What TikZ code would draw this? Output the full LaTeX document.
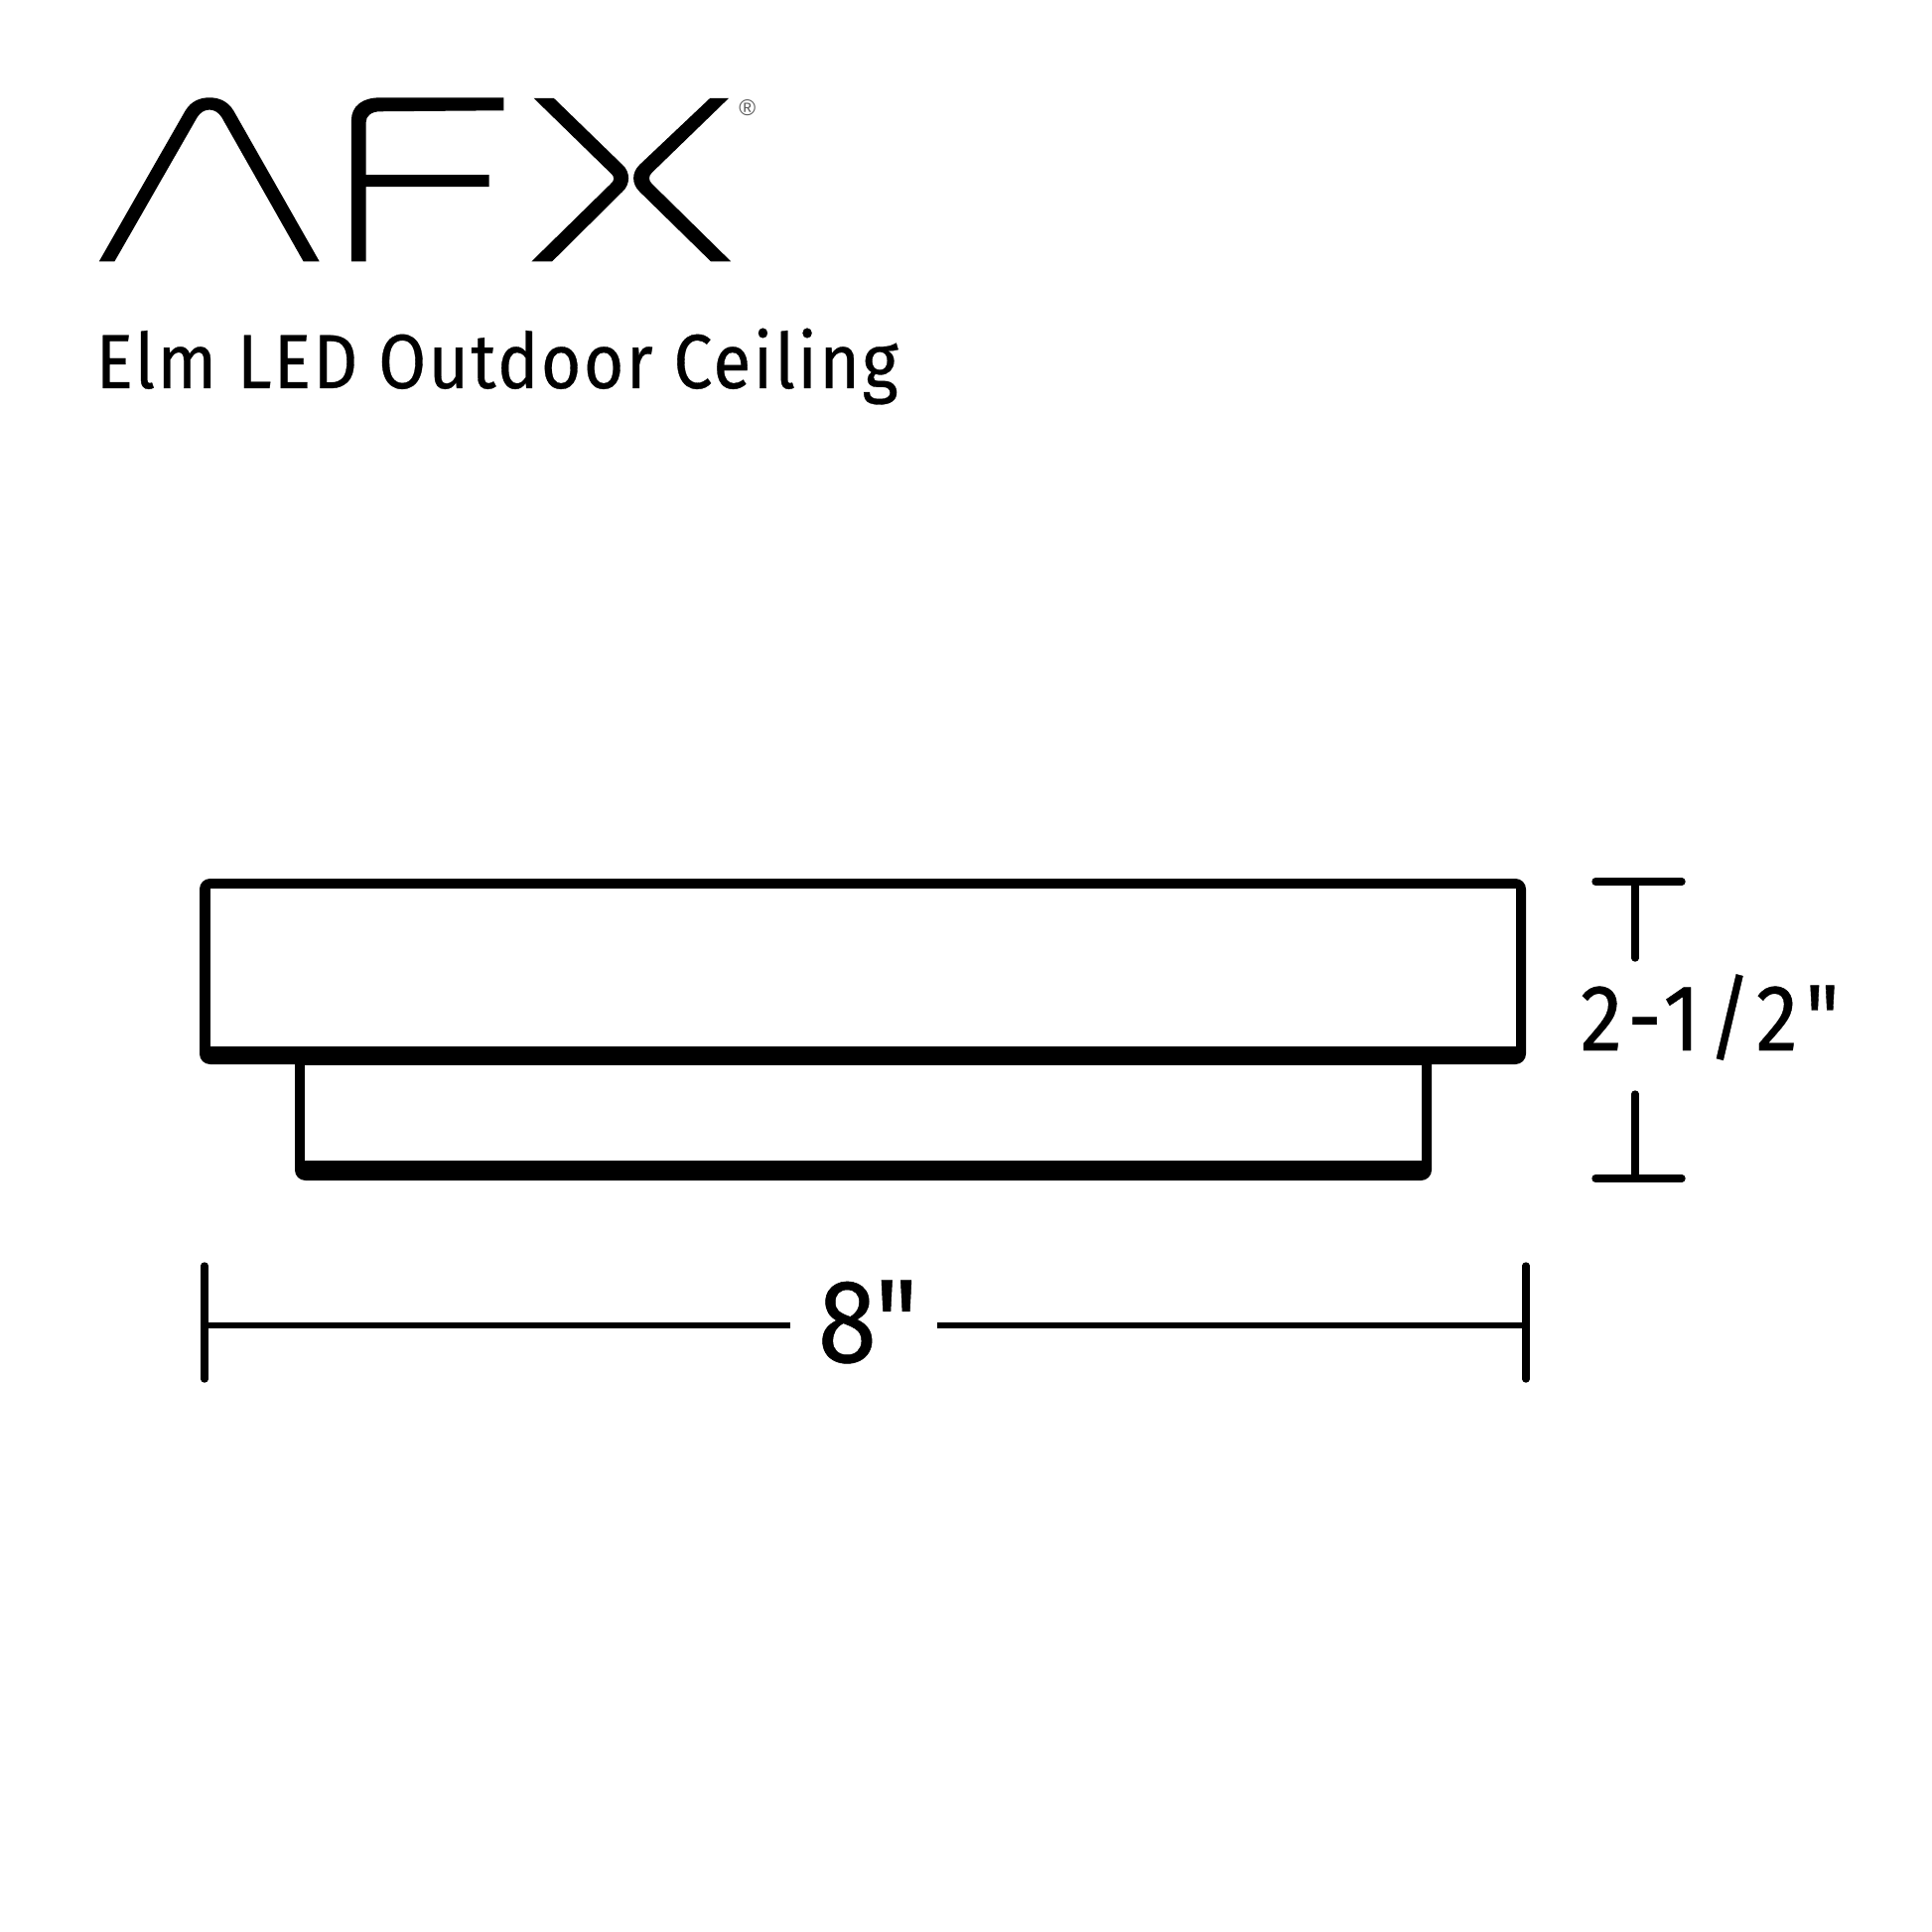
\documentclass[tikz,border=0pt]{standalone}
\usepackage{fontspec}
\newfontfamily\labelfont[FakeStretch=0.9, FakeBold=0.4]{Fira Sans}
\newfontfamily\regfont{Liberation Sans}
\tikzset{
	dimline/.style={line width=2.1pt, line cap=round},
	dimlabel/.style={inner sep=0pt, anchor=base west, black}
}
\begin{document}
\begin{tikzpicture}[x=0.01cm, y=-0.01cm]
	\useasboundingbox (0,0) rectangle (1946,1946);
	% logo
	\begin{scope}[shift={(80,80)}, x=0.00459cm, y=-0.00333cm]
		\fill (43,551) -- (232,95) .. controls (245,65) and (265,55) .. (285,55) .. controls (305,55) and (325,65) .. (338,95) -- (526,551) -- (491,551) -- (312,115) .. controls (305,100) and (296,92) .. (285,92) .. controls (274,92) and (265,100) .. (258,115) -- (77,551) -- cycle;
		\fill (596,551) -- (596,125) .. controls (596,80) and (620,55) .. (660,55) -- (930,55) -- (930,94) -- (660,97) .. controls (640,97) and (628,110) .. (628,130) -- (628,289) -- (898,289) -- (898,325) -- (628,325) -- (628,551) -- cycle;
		\fill (996,57) -- (1040,57) -- (1190,258) .. controls (1208,280) and (1208,318) .. (1190,340) -- (1036,551) -- (991,551) -- (1163,318) .. controls (1174,306) and (1174,294) .. (1163,282) -- cycle;
		\fill (1382,57) -- (1423,57) -- (1255,282) .. controls (1247,292) and (1247,306) .. (1255,316) -- (1428,551) -- (1384,551) -- (1228,340) .. controls (1210,316) and (1210,282) .. (1228,258) -- cycle;
		\node[gray!70!black] (reg) at (1464,85) {\regfont\fontsize{6.5pt}{7pt}\selectfont ®};
	\end{scope}
	\node[dimlabel] (title) at (96,391) {\labelfont\fontsize{22pt}{26pt}\selectfont\addfontfeature{LetterSpace=3}Elm LED Outdoor Ceiling};
	% fixture
	\fill[rounded corners=3pt] (201,885) rectangle (1537,1072);
	\fill[white] (212,895) rectangle (1527,1054);
	\fill[rounded corners=3pt] (297,1060) rectangle (1442,1189);
	\fill[white] (307,1073) rectangle (1432,1169);
	% height
	\coordinate (hL) at (1607,888);
	\coordinate (hR) at (1694,888);
	\coordinate (hT) at (1647,888);
	\coordinate (hU) at (1647,965);
	\coordinate (lL) at (1607,1187);
	\coordinate (lR) at (1694,1187);
	\coordinate (lB) at (1647,1187);
	\coordinate (lU) at (1647,1102);
	\draw[dimline] (hL) -- (hR);
	\draw[dimline] (hT) -- (hU);
	\draw[dimline] (lL) -- (lR);
	\draw[dimline] (lB) -- (lU);
	\node[dimlabel] (heightlabel) at (1591,1058) {\labelfont\fontsize{27pt}{30pt}\selectfont\addfontfeature{LetterSpace=8}2-1/2"};
	% width
	\coordinate (wLT) at (206,1275);
	\coordinate (wLB) at (206,1389);
	\coordinate (wRT) at (1537,1275);
	\coordinate (wRB) at (1537,1389);
	\coordinate (wL) at (206,1335);
	\coordinate (wR) at (1537,1335);
	\coordinate (wGapL) at (796,1335);
	\coordinate (wGapR) at (944,1335);
	\draw[dimline] (wLT) -- (wLB);
	\draw[dimline] (wRT) -- (wRB);
	\draw[line width=1.8pt] (wL) -- (wGapL);
	\draw[line width=1.8pt] (wGapR) -- (wR);
	\node[dimlabel] (widthlabel) at (823,1372) {\labelfont\fontsize{34pt}{38pt}\selectfont 8"};
\end{tikzpicture}
\end{document}
